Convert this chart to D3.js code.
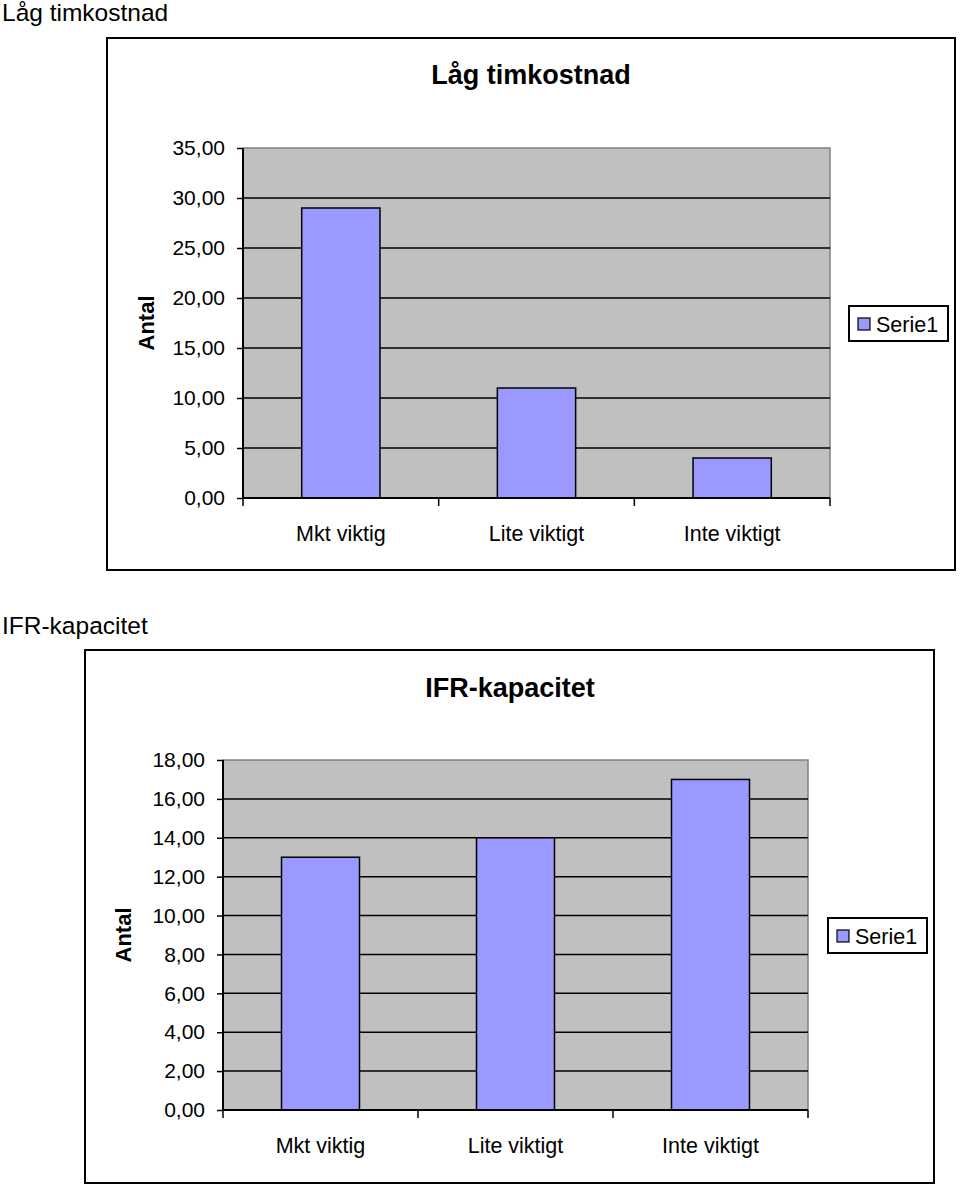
<!DOCTYPE html>
<html>
<head>
<meta charset="utf-8">
<script src="https://cdn.jsdelivr.net/npm/d3@7"></script>
<style>
  body { margin: 0; background: #fff; }
  svg { display: block; font-family: "Liberation Sans", Arial, sans-serif; }
</style>
</head>
<body>
<svg id="chart" width="960" height="1186"></svg>
<script>
// values
var categories = ["Mkt viktig", "Lite viktigt", "Inte viktigt"];
var lagValues = [29, 11, 4];
var lagTicks = [0, 5, 10, 15, 20, 25, 30, 35];
var ifrValues = [13, 14, 17];
var ifrTicks = [0, 2, 4, 6, 8, 10, 12, 14, 16, 18];
var seriesName = "Serie1";

var svg = d3.select("#chart");
var fmt = function (d) { return d3.format(".2f")(d).replace(".", ","); };

// draws one framed Excel-style column chart
function drawChart(opt) {
  var g = svg.append("g");

  // sheet label above the frame
  g.append("text")
    .attr("x", 2).attr("y", opt.labelY)
    .attr("font-size", 24.5)
    .text(opt.title);

  // frame
  g.append("rect")
    .attr("x", opt.frame[0]).attr("y", opt.frame[1])
    .attr("width", opt.frame[2]).attr("height", opt.frame[3])
    .attr("fill", "#fff").attr("stroke", "#000").attr("stroke-width", 2);

  g.append("text")
    .attr("x", opt.titleX).attr("y", opt.titleY)
    .attr("text-anchor", "middle")
    .attr("font-size", 27).attr("font-weight", "bold")
    .text(opt.title);

  var x = d3.scaleBand().domain(categories).range([opt.left, opt.right]);
  var y = d3.scaleLinear().domain([0, d3.max(opt.ticks)]).range([opt.bottom, opt.top]);

  // plot area
  g.append("rect")
    .attr("x", opt.left).attr("y", opt.top)
    .attr("width", opt.right - opt.left).attr("height", opt.bottom - opt.top)
    .attr("fill", "#c0c0c0").attr("stroke", "#808080").attr("stroke-width", 1.5);

  // gridlines
  g.selectAll(".grid").data(opt.ticks.slice(1, -1)).enter().append("line")
    .attr("x1", opt.left).attr("x2", opt.right)
    .attr("y1", function (d) { return y(d); }).attr("y2", function (d) { return y(d); })
    .attr("stroke", "#000").attr("stroke-width", 1.5);

  // bars
  var bw = x.bandwidth() * 0.4;
  g.selectAll(".bar").data(opt.values).enter().append("rect")
    .attr("x", function (d, i) { return x(categories[i]) + (x.bandwidth() - bw) / 2; })
    .attr("y", function (d) { return y(d); })
    .attr("width", bw)
    .attr("height", function (d) { return opt.bottom - y(d); })
    .attr("fill", "#9999ff").attr("stroke", "#000").attr("stroke-width", 1.5);

  // y axis
  var yAxis = g.append("g")
    .attr("transform", "translate(" + opt.left + ",0)")
    .call(d3.axisLeft(y).tickValues(opt.ticks).tickFormat(fmt).tickSize(6).tickPadding(12));
  yAxis.select(".domain").attr("stroke", "#000").attr("stroke-width", 2).attr("d", "M0," + opt.top + "V" + opt.bottom);
  yAxis.selectAll(".tick line").attr("stroke-width", 1.5);
  yAxis.selectAll("text").attr("font-size", 21).attr("font-family", "Liberation Sans, Arial, sans-serif").attr("fill", "#000");

  // x axis with ticks between categories
  var xAxis = g.append("g").attr("transform", "translate(0," + opt.bottom + ")");
  xAxis.append("line")
    .attr("x1", opt.left).attr("x2", opt.right)
    .attr("stroke", "#000").attr("stroke-width", 2);
  var bounds = categories.map(function (c) { return x(c); }).concat([opt.right]);
  xAxis.selectAll(".xt").data(bounds).enter().append("line")
    .attr("x1", function (d) { return d; }).attr("x2", function (d) { return d; })
    .attr("y1", 0).attr("y2", 8)
    .attr("stroke", "#000").attr("stroke-width", 1.5);
  xAxis.selectAll(".xl").data(categories).enter().append("text")
    .attr("x", function (d) { return x(d) + x.bandwidth() / 2; })
    .attr("y", 43)
    .attr("text-anchor", "middle")
    .attr("font-size", 21.5)
    .text(function (d) { return d; });

  // axis title
  g.append("text")
    .attr("transform", "translate(" + opt.axisX + "," + ((opt.top + opt.bottom) / 2) + ") rotate(-90)")
    .attr("text-anchor", "middle")
    .attr("font-size", 22).attr("font-weight", "bold")
    .text("Antal");

  // legend
  var lg = g.append("g").attr("transform", "translate(" + opt.legend[0] + "," + opt.legend[1] + ")");
  lg.append("rect").attr("width", 99).attr("height", 35)
    .attr("fill", "#fff").attr("stroke", "#000").attr("stroke-width", 2);
  lg.append("rect").attr("x", 9).attr("y", 12).attr("width", 12).attr("height", 12)
    .attr("fill", "#9999ff").attr("stroke", "#000").attr("stroke-width", 1.2);
  lg.append("text").attr("x", 27).attr("y", 26)
    .attr("font-size", 21.5)
    .text(seriesName);
}

drawChart({
  title: "Låg timkostnad", labelY: 21,
  frame: [107, 38, 848, 532],
  titleX: 531, titleY: 84,
  left: 243, right: 830, top: 148, bottom: 498,
  values: lagValues, ticks: lagTicks,
  axisX: 154, legend: [849, 306]
});

drawChart({
  title: "IFR-kapacitet", labelY: 634,
  frame: [85, 650, 849, 533],
  titleX: 510, titleY: 697,
  left: 223, right: 808, top: 760, bottom: 1110,
  values: ifrValues, ticks: ifrTicks,
  axisX: 131, legend: [828, 918]
});
</script>
</body>
</html>
